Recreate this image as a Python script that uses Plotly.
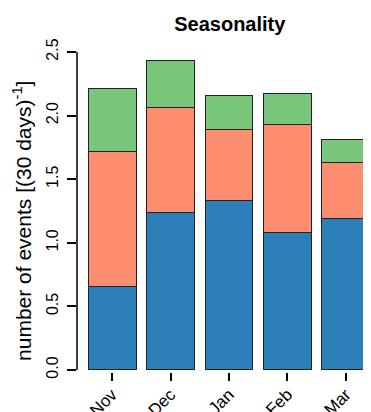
import plotly.graph_objects as go

months = ["Nov", "Dec", "Jan", "Feb", "Mar"]
blue_vals = [0.66, 1.24, 1.33, 1.08, 1.19]
red_vals = [1.06, 0.82, 0.56, 0.85, 0.44]
green_vals = [0.49, 0.37, 0.27, 0.24, 0.18]
y_ticks = [0.0, 0.5, 1.0, 1.5, 2.0, 2.5]
y_ticktext = ["0.0", "0.5", "1.0", "1.5", "2.0", "2.5"]

font = "Liberation Sans, Arial, Helvetica, sans-serif"
line = dict(color="#222222", width=1)

fig = go.Figure()
for vals, col in [(blue_vals, "#2C7FB8"), (red_vals, "#FC8D6F"), (green_vals, "#78C679")]:
    fig.add_trace(go.Bar(x=months, y=vals, marker=dict(color=col, line=line), showlegend=False))

# page body has an 8px margin, so the figure is sized/offset to compensate
fig.update_layout(
    barmode="stack",
    bargap=0.18,
    width=363, height=404,
    margin=dict(l=69, r=0, t=32, b=40),
    paper_bgcolor="white", plot_bgcolor="white",
    font=dict(family=font, color="black"),
    title=dict(text="<b>Seasonality</b>", font=dict(size=20, family=font),
               x=0.611, xref="container", xanchor="center",
               y=1 - 16 / 404, yref="container", yanchor="middle"),
    xaxis=dict(range=[-0.6, 4.43], showline=False, showgrid=False, zeroline=False,
               automargin=False,
               ticks="outside", ticklen=8, tickcolor="black", tickwidth=1.5,
               tickangle=-45, tickfont=dict(size=17), ticklabelstandoff=-3),
    yaxis=dict(range=[-0.016, 2.594], showline=False, showgrid=False, zeroline=False,
               automargin=False,
               tickvals=y_ticks, ticktext=y_ticktext,
               ticks="outside", ticklen=9, tickcolor="black", tickwidth=1.5,
               tickangle=-90, tickfont=dict(size=16), ticklabelstandoff=3),
)
fig.add_annotation(text="number of events [(30 days)<sup>-1</sup>]",
                   xref="paper", yref="paper", x=-0.187, y=0.455,
                   xanchor="center", yanchor="middle", textangle=-90,
                   showarrow=False, font=dict(size=21, family=font, color="black"))
fig.add_shape(type="line", xref="paper", x0=0, x1=0, yref="y", y0=0, y1=2.5,
              line=dict(color="black", width=1.5))

fig.write_html("out.html")
